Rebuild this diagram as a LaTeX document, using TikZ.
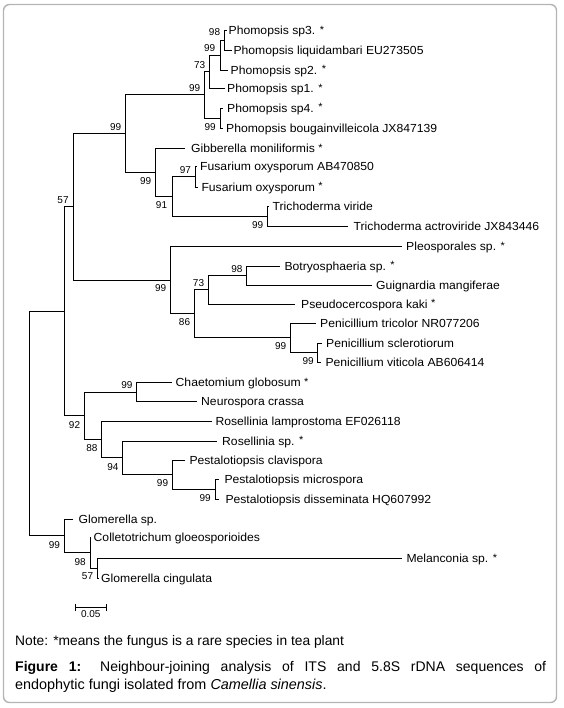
\documentclass[tikz,border=0pt]{standalone}
\usepackage{fontspec}
\setmainfont{Liberation Sans}
\newfontfamily\tipfont[FakeStretch=1.04]{Liberation Sans}
\newcommand\rsp{\raisebox{1.3pt}{\fontsize{10.5}{12}\selectfont*}}
\begin{document}
\begin{tikzpicture}[x=1pt,y=-1pt,
  branch/.style={line width=0.9pt, black},
  tiptext/.style={anchor=base west, inner sep=0pt, font=\tipfont\fontsize{11.7}{14}\selectfont},
  bs/.style={anchor=base east, inner sep=0pt, font=\fontsize{10}{12}\selectfont},
  frame/.style={draw={rgb,255:red,180;green,180;blue,180}, line width=1.4pt, rounded corners=6pt}]
\path[use as bounding box] (0,0) rectangle (563,708);
\draw[frame] (3.5,4.5) rectangle (556.5,702.5);
% ---------- tips ----------
\coordinate (t1) at (227.3,30.5);
\coordinate (t2) at (231.7,50);
\coordinate (t3) at (228,70);
\coordinate (t4) at (225,88.5);
\coordinate (t5) at (223.3,108);
\coordinate (t6) at (223.3,128);
\coordinate (t7) at (185,148.3);
\coordinate (t8) at (196.5,166);
\coordinate (t9) at (198,187);
\coordinate (t10) at (269,206);
\coordinate (t11) at (348,226);
\coordinate (t12) at (401.7,246.7);
\coordinate (t13) at (280,266);
\coordinate (t14) at (372.3,285);
\coordinate (t15) at (295,304);
\coordinate (t16) at (316,323);
\coordinate (t17) at (321.7,343);
\coordinate (t18) at (321,362);
\coordinate (t19) at (171.7,382.5);
\coordinate (t20) at (196.7,401.5);
\coordinate (t21) at (211.7,421.5);
\coordinate (t22) at (217,441);
\coordinate (t23) at (185,460);
\coordinate (t24) at (219.3,479.5);
\coordinate (t25) at (219.3,499);
\coordinate (t26) at (73.3,519);
\coordinate (t27) at (91,537.3);
\coordinate (t28) at (401.7,558.3);
\coordinate (t29) at (98.5,578.3);
% ---------- internal nodes ----------
\coordinate (A) at (224.3,40.25);
\coordinate (B) at (220,55.1);
\coordinate (C) at (209,71.8);
\coordinate (D) at (220,118);
\coordinate (E) at (204,94.9);
\coordinate (F) at (195.5,176.5);
\coordinate (G) at (267.5,216);
\coordinate (H) at (172.3,196.25);
\coordinate (I) at (155.7,172.3);
\coordinate (J) at (125,133.6);
\coordinate (K) at (246.7,275.5);
\coordinate (L) at (208.3,289.75);
\coordinate (M) at (317.7,352.5);
\coordinate (N) at (290.5,337.75);
\coordinate (O) at (194.3,313.75);
\coordinate (P) at (170.3,280.2);
\coordinate (Q) at (73.3,206.9);
\coordinate (R) at (136.7,392);
\coordinate (S) at (215,489.25);
\coordinate (T) at (172.3,474.6);
\coordinate (U) at (122.7,457.8);
\coordinate (V) at (101.7,439.65);
\coordinate (W) at (84.3,415.8);
\coordinate (X) at (64.3,311.4);
\coordinate (Y) at (97.3,568.3);
\coordinate (Z) at (90,552.8);
\coordinate (AA) at (64,535.9);
\coordinate (root) at (29.7,423.6);
% ---------- branches ----------
\draw[branch] (A) |- (t1); \draw[branch] (A) |- (t2);
\draw[branch] (B) |- (A);  \draw[branch] (B) |- (t3);
\draw[branch] (C) |- (B);  \draw[branch] (C) |- (t4);
\draw[branch] (D) |- (t5); \draw[branch] (D) |- (t6);
\draw[branch] (E) |- (C);  \draw[branch] (E) |- (D);
\draw[branch] (F) |- (t8); \draw[branch] (F) |- (t9);
\draw[branch] (G) |- (t10); \draw[branch] (G) |- (t11);
\draw[branch] (H) |- (F);  \draw[branch] (H) |- (G);
\draw[branch] (I) |- (t7); \draw[branch] (I) |- (H);
\draw[branch] (J) |- (E);  \draw[branch] (J) |- (I);
\draw[branch] (K) |- (t13); \draw[branch] (K) |- (t14);
\draw[branch] (L) |- (K);  \draw[branch] (L) |- (t15);
\draw[branch] (M) |- (t17); \draw[branch] (M) |- (t18);
\draw[branch] (N) |- (t16); \draw[branch] (N) |- (M);
\draw[branch] (O) |- (L);  \draw[branch] (O) |- (N);
\draw[branch] (P) |- (t12); \draw[branch] (P) |- (O);
\draw[branch] (Q) |- (J);  \draw[branch] (Q) |- (P);
\draw[branch] (R) |- (t19); \draw[branch] (R) |- (t20);
\draw[branch] (S) |- (t24); \draw[branch] (S) |- (t25);
\draw[branch] (T) |- (t23); \draw[branch] (T) |- (S);
\draw[branch] (U) |- (t22); \draw[branch] (U) |- (T);
\draw[branch] (V) |- (t21); \draw[branch] (V) |- (U);
\draw[branch] (W) |- (R);  \draw[branch] (W) |- (V);
\draw[branch] (X) |- (Q);  \draw[branch] (X) |- (W);
\draw[branch] (Y) |- (t28); \draw[branch] (Y) |- (t29);
\draw[branch] (Z) |- (t27); \draw[branch] (Z) |- (Y);
\draw[branch] (AA) |- (t26); \draw[branch] (AA) |- (Z);
\draw[branch] (root) |- (X); \draw[branch] (root) |- (AA);
% ---------- tip labels ----------
\node[tiptext] (n1) at (228.5,34.7) {Phomopsis sp3. \rsp};
\node[tiptext] (n2) at (233.3,54.2) {Phomopsis liquidambari EU273505};
\node[tiptext] (n3) at (230.5,74.2) {Phomopsis sp2. \rsp};
\node[tiptext] (n4) at (227,92.7) {Phomopsis sp1. \rsp};
\node[tiptext] (n5) at (227,112.2) {Phomopsis sp4. \rsp};
\node[tiptext] (n6) at (226,132.2) {Phomopsis bougainvilleicola JX847139};
\node[tiptext] (n7) at (191,152.5) {Gibberella moniliformis \rsp};
\node[tiptext] (n8) at (200,170.2) {Fusarium oxysporum AB470850};
\node[tiptext] (n9) at (201.3,191.2) {Fusarium oxysporum \rsp};
\node[tiptext] (n10) at (272.5,210.2) {Trichoderma viride};
\node[tiptext] (n11) at (353.5,230.2) {Trichoderma actroviride JX843446};
\node[tiptext] (n12) at (406,250.9) {Pleosporales sp. \rsp};
\node[tiptext] (n13) at (284.3,270.2) {Botryosphaeria sp. \rsp};
\node[tiptext] (n14) at (376,289.2) {Guignardia mangiferae};
\node[tiptext] (n15) at (301,308.2) {Pseudocercospora kaki \rsp};
\node[tiptext] (n16) at (320,327.2) {Penicillium tricolor NR077206};
\node[tiptext] (n17) at (326,347.2) {Penicillium sclerotiorum};
\node[tiptext] (n18) at (325.3,366.2) {Penicillium viticola AB606414};
\node[tiptext] (n19) at (175.5,386.7) {Chaetomium globosum \rsp};
\node[tiptext] (n20) at (201,405.7) {Neurospora crassa};
\node[tiptext] (n21) at (215.3,425.7) {Rosellinia lamprostoma EF026118};
\node[tiptext] (n22) at (222,445.2) {Rosellinia sp. \rsp};
\node[tiptext] (n23) at (189.3,464.2) {Pestalotiopsis clavispora};
\node[tiptext] (n24) at (224.3,483.7) {Pestalotiopsis microspora};
\node[tiptext] (n25) at (225.3,503.2) {Pestalotiopsis disseminata HQ607992};
\node[tiptext] (n26) at (78.5,523.2) {Glomerella sp.};
\node[tiptext] (n27) at (93.5,541.5) {Colletotrichum gloeosporioides};
\node[tiptext] (n28) at (406.3,562.5) {Melanconia sp. \rsp};
\node[tiptext] (n29) at (101,582.5) {Glomerella cingulata};
% ---------- bootstrap values ----------
\path (A) ++(-4,-4.5) node[bs] (bA) {98};
\path (B) ++(-4.5,-3.5) node[bs] (bB) {99};
\path (C) ++(-3.5,-3.2) node[bs] (bC) {73};
\path (E) ++(-3.5,-3) node[bs] (bE) {99};
\path (D) ++(-4,12.3) node[bs] (bD) {99};
\path (F) ++(-4.3,-3) node[bs] (bF) {97};
\path (G) ++(-4,12.2) node[bs] (bG) {99};
\path (H) ++(-5,12.2) node[bs] (bH) {91};
\path (I) ++(-4.2,12.2) node[bs] (bI) {99};
\path (J) ++(-3.5,-3.3) node[bs] (bJ) {99};
\path (K) ++(-4,-3.3) node[bs] (bK) {98};
\path (L) ++(-4,-3.3) node[bs] (bL) {73};
\path (M) ++(-3.8,12.2) node[bs] (bM) {99};
\path (N) ++(-4,12.2) node[bs] (bN) {99};
\path (O) ++(-4,12.2) node[bs] (bO) {86};
\path (P) ++(-3.8,11.3) node[bs] (bP) {99};
\path (Q) ++(-4.5,-3.3) node[bs] (bQ) {57};
\path (R) ++(-4,-3.3) node[bs] (bR) {99};
\path (W) ++(-4,12.2) node[bs] (bW) {92};
\path (V) ++(-4,12.2) node[bs] (bV) {88};
\path (U) ++(-4,12.2) node[bs] (bU) {94};
\path (T) ++(-4,12.2) node[bs] (bT) {99};
\path (S) ++(-4,12.2) node[bs] (bS) {99};
\path (AA) ++(-3.8,12.2) node[bs] (bAA) {99};
\path (Z) ++(-4,12.2) node[bs] (bZ) {98};
\path (Y) ++(-4,11.5) node[bs] (bY) {57};
% ---------- scale bar ----------
\coordinate (sb1) at (75.7,607.3);
\coordinate (sb2) at (106,607.3);
\draw[line width=0.8pt] (sb1) -- (sb2);
\draw[line width=0.8pt] ([yshift=-3.8pt]sb1) -- ([yshift=3.8pt]sb1);
\draw[line width=0.8pt] ([yshift=-3.8pt]sb2) -- ([yshift=3.8pt]sb2);
\node[anchor=base, inner sep=0pt, font=\fontsize{10}{12}\selectfont] (sbl) at (90.8,617.3) {0.05};
% ---------- caption ----------
\node[anchor=base west, inner sep=0pt, font=\fontsize{13.8}{17}\selectfont] (note) at (15,645.7) {Note: *means the fungus is a rare species in tea plant};
\node[anchor=base west, inner sep=0pt, font=\fontsize{14}{17}\selectfont] (cap1) at (15,671.7) {\makebox[531pt][s]{\textbf{Figure 1:} Neighbour-joining analysis of ITS and 5.8S rDNA sequences of}};
\node[anchor=base west, inner sep=0pt, font=\fontsize{14.4}{17}\selectfont] (cap2) at (15,689) {endophytic fungi isolated from \textit{Camellia sinensis}.};
\end{tikzpicture}
\end{document}
